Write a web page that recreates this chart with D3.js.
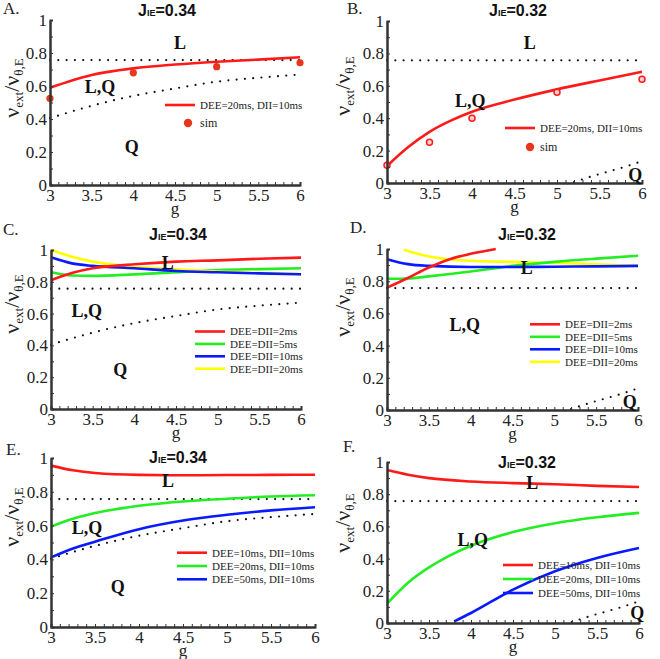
<!DOCTYPE html>
<html><head><meta charset="utf-8">
<script src="https://cdn.jsdelivr.net/npm/d3@7"></script>
<style>body{margin:0;background:#fff}svg{display:block}</style>
</head><body>
<svg id="c" width="660" height="659"></svg>
<script>
// ---------- data ----------
const gTicks = [3, 3.5, 4, 4.5, 5, 5.5, 6];
const gTickLabels = ["3", "3.5", "4", "4.5", "5", "5.5", "6"];
const yTicks = [0, 0.2, 0.4, 0.6, 0.8, 1];
const yTickLabels = ["0", "0.2", "0.4", "0.6", "0.8", "1"];
const gGrid = [3, 3.25, 3.5, 4, 4.5, 5, 5.5, 6];
const gFine = [3, 3.25, 3.5, 3.75, 4, 4.5, 5, 5.5, 6];
const gCoarse = [3, 3.5, 4, 4.5, 5, 5.5, 6];

const upperG = [3, 6];
const upperV = [0.757, 0.757];
const lower34V = [0.405, 0.48, 0.54, 0.585, 0.626, 0.65, 0.669];
const lower32G = [5.2, 5.4, 5.6, 5.8, 6];
const lower32V = [0.005, 0.04, 0.07, 0.1, 0.135];

const aRed = [0.59, 0.667, 0.707, 0.73, 0.747, 0.76, 0.774];
const aSimG = [3, 4, 5, 6];
const aSimV = [0.525, 0.68, 0.717, 0.741];

const bRed = [0.105, 0.222, 0.316, 0.385, 0.44, 0.515, 0.578, 0.633, 0.686];
const bSimG = [3, 3.5, 4, 5, 6];
const bSimV = [0.11, 0.252, 0.40, 0.56, 0.641];

const cRed = [0.81, 0.855, 0.885, 0.91, 0.927, 0.935, 0.945, 0.952];
const cGreen = [0.86, 0.84, 0.837, 0.847, 0.86, 0.874, 0.88, 0.885];
const cBlue = [0.954, 0.916, 0.9, 0.885, 0.868, 0.86, 0.853, 0.847];
const cYellow = [1.0, 0.958, 0.927, 0.895, 0.879, 0.864, 0.855, 0.847];

const dRedG = [3, 3.25, 3.5, 3.75, 4, 4.3];
const dRed = [0.76, 0.82, 0.885, 0.937, 0.97, 1.0];
const dGreen = [0.815, 0.817, 0.83, 0.86, 0.895, 0.92, 0.94, 0.958];
const dBlue = [0.937, 0.906, 0.895, 0.888, 0.888, 0.89, 0.892, 0.895];
const dYellowG = [3.2, 3.5, 4, 4.5, 5, 5.5, 6];
const dYellow = [0.996, 0.954, 0.927, 0.92, 0.913, 0.905, 0.895];

const eRed = [0.955, 0.927, 0.911, 0.9, 0.898, 0.899, 0.9, 0.901];
const eGreen = [0.594, 0.64, 0.674, 0.717, 0.743, 0.759, 0.772, 0.78];
const eBlue = [0.412, 0.465, 0.505, 0.579, 0.63, 0.664, 0.69, 0.709];

const fRed = [0.95, 0.921, 0.9, 0.879, 0.869, 0.862, 0.852, 0.845];
const fGreen = [0.12, 0.25, 0.345, 0.42, 0.48, 0.565, 0.62, 0.657, 0.684];
const fBlueG = [3.8, 4, 4.5, 5, 5.5, 6];
const fBlue = [0.01, 0.062, 0.207, 0.321, 0.404, 0.466];

const legendC = ["DEE=DII=2ms", "DEE=DII=5ms", "DEE=DII=10ms", "DEE=DII=20ms"];
const legendE = ["DEE=10ms, DII=10ms", "DEE=20ms, DII=10ms", "DEE=50ms, DII=10ms"];
const legendA = "DEE=20ms, DII=10ms";

// ---------- styles ----------
const RED = "#ff1a1a", GREEN = "#22ee22", BLUE = "#0a1aff", YELLOW = "#ffff00", SIM = "#e8361c";
const serif = "'Liberation Serif','Times New Roman',serif";
const sans = "'Liberation Sans',Arial,sans-serif";

const zip = (g, v) => g.map((x, i) => [x, v[i]]);

const panels = [
  {letter: "A.", lx: 3, ly: 14, x0: 50, x1: 300, yT: 20, yB: 185, J: "0.34", tx: 167, ty: 16,
   ylab: [19, 88], regions: [["L", 4.56, 0.86], ["L,Q", 3.6, 0.594], ["Q", 3.98, 0.23]],
   lower: zip(gCoarse, lower34V),
   curves: [{d: zip(gCoarse, aRed), c: RED}],
   sims: {d: zip(aSimG, aSimV), hollow: false},
   legend: {x: 165, y: 105, items: [[legendA, RED]], sim: [188, 123]}},
  {letter: "B.", lx: 347, ly: 14, x0: 387, x1: 642, yT: 21, yB: 183, J: "0.32", tx: 518, ty: 16,
   ylab: [350, 86], regions: [["L", 4.68, 0.864], ["L,Q", 3.98, 0.51], ["Q", 5.92, 0.05]],
   lower: zip(lower32G, lower32V),
   curves: [{d: zip(gFine, bRed), c: RED}],
   sims: {d: zip(bSimG, bSimV), hollow: true},
   legend: {x: 505, y: 128, items: [[legendA, RED]], sim: [530, 147]}},
  {letter: "C.", lx: 3, ly: 235, x0: 51, x1: 301, yT: 250, yB: 409, J: "0.34", tx: 178, ty: 240,
   ylab: [19, 304], regions: [["L", 4.4, 0.918], ["L,Q", 3.43, 0.62], ["Q", 3.83, 0.245]],
   lower: zip(gCoarse, lower34V),
   curves: [{d: zip(gGrid, cGreen), c: GREEN}, {d: zip(gGrid, cYellow), c: YELLOW}, {d: zip(gGrid, cBlue), c: BLUE}, {d: zip(gGrid, cRed), c: RED}],
   legend: {x: 195, y: 331.5, dy: 12.4, items: legendC.map((t, i) => [t, [RED, GREEN, BLUE, YELLOW][i]])}},
  {letter: "D.", lx: 350, ly: 233, x0: 387, x1: 638, yT: 249, yB: 410, J: "0.32", tx: 527, ty: 240,
   ylab: [350, 307], regions: [["L", 4.67, 0.882], ["L,Q", 3.93, 0.528], ["Q", 5.9, 0.05]],
   lower: zip(lower32G, lower32V),
   curves: [{d: zip(dYellowG, dYellow), c: YELLOW}, {d: zip(gGrid, dGreen), c: GREEN}, {d: zip(gGrid, dBlue), c: BLUE}, {d: zip(dRedG, dRed), c: RED}],
   legend: {x: 530, y: 324.3, dy: 12.5, items: legendC.map((t, i) => [t, [RED, GREEN, BLUE, YELLOW][i]])}},
  {letter: "E.", lx: 6, ly: 455, x0: 51, x1: 315, yT: 458, yB: 627, J: "0.34", tx: 178, ty: 463,
   ylab: [19, 517], regions: [["L", 4.33, 0.868], ["L,Q", 3.41, 0.59], ["Q", 3.76, 0.237]],
   lower: zip(gCoarse, lower34V),
   curves: [{d: zip(gGrid, eRed), c: RED}, {d: zip(gGrid, eGreen), c: GREEN}, {d: zip(gGrid, eBlue), c: BLUE}],
   legend: {x: 177, y: 552.7, dy: 13.3, items: legendE.map((t, i) => [t, [RED, GREEN, BLUE][i]])}},
  {letter: "F.", lx: 343, ly: 452, x0: 387, x1: 639, yT: 462, yB: 623, J: "0.32", tx: 527, ty: 468,
   ylab: [350, 523], regions: [["L", 4.73, 0.87], ["L,Q", 4.02, 0.52], ["Q", 5.98, 0.065]],
   lower: zip(lower32G, lower32V),
   curves: [{d: zip(gGrid, fRed), c: RED}, {d: zip(gFine, fGreen), c: GREEN}, {d: zip(fBlueG, fBlue), c: BLUE}],
   legend: {x: 503, y: 565, dy: 14, items: legendE.map((t, i) => [t, [RED, GREEN, BLUE][i]])}}
];

const svg = d3.select("#c");

panels.forEach(p => {
  const g = svg.append("g");
  const x = d3.scaleLinear().domain([3, 6]).range([p.x0, p.x1]);
  const y = d3.scaleLinear().domain([0, 1]).range([p.yB, p.yT]);

  // boundaries (dotted)
  const dline = d3.line().x(d => x(d[0])).y(d => y(d[1])).curve(d3.curveMonotoneX);
  [zip(upperG, upperV), p.lower].forEach(b => {
    g.append("path").attr("d", dline(b)).attr("fill", "none").attr("stroke", "#111")
      .attr("stroke-width", 2.2).attr("stroke-linecap", "round").attr("stroke-dasharray", "0,8.3");
  });

  // curves
  const line = d3.line().x(d => x(d[0])).y(d => y(d[1])).curve(d3.curveMonotoneX);
  p.curves.forEach(cv => {
    g.append("path").attr("d", line(cv.d)).attr("fill", "none").attr("stroke", cv.c).attr("stroke-width", 2.6);
  });

  // sims
  if (p.sims) {
    g.selectAll(null).data(p.sims.d).enter().append("circle")
      .attr("cx", d => x(d[0])).attr("cy", d => y(d[1]))
      .attr("r", p.sims.hollow ? 3 : 3.6)
      .attr("fill", p.sims.hollow ? "#ffd0d0" : SIM)
      .attr("stroke", p.sims.hollow ? RED : "none").attr("stroke-width", 1.5);
  }

  // axes
  const xAxis = g.append("g").attr("transform", `translate(0,${p.yB})`)
    .call(d3.axisBottom(x).tickValues(gTicks).tickSize(0).tickPadding(4).tickFormat((d, i) => gTickLabels[i]));
  const xMinor = g.append("g").attr("transform", `translate(0,${p.yB})`)
    .call(d3.axisBottom(x).tickValues(d3.range(31).map(i => 3 + i * 0.1)).tickSize(-3).tickFormat(""));
  const yAxis = g.append("g").attr("transform", `translate(${p.x0},0)`)
    .call(d3.axisLeft(y).tickValues(yTicks).tickSize(0).tickPadding(3).tickFormat((d, i) => yTickLabels[i]));
  const yMinor = g.append("g").attr("transform", `translate(${p.x0},0)`)
    .call(d3.axisLeft(y).tickValues(d3.range(11).map(i => i * 0.1)).tickSize(-3).tickFormat(""));
  [xAxis, xMinor, yAxis, yMinor].forEach(a => {
    a.attr("font-family", serif);
    a.select(".domain").attr("stroke", "#333").attr("stroke-width", 2);
    a.selectAll(".tick line").attr("stroke", "#333").attr("stroke-width", 1);
    a.selectAll("text").attr("font-family", serif).attr("font-size", 17).attr("fill", "#222");
  });
  xAxis.selectAll("text").attr("dy", "0.72em");

  // x label
  g.append("text").attr("x", (p.x0 + p.x1) / 2).attr("y", p.yB + 29).attr("text-anchor", "middle")
    .attr("font-family", serif).attr("font-size", 17).attr("fill", "#222").text("g");

  // y label
  const yl = g.append("text").attr("transform", `translate(${p.ylab[0]},${p.ylab[1]}) rotate(-90)`)
    .attr("text-anchor", "middle").attr("font-family", serif).attr("font-size", 22).attr("fill", "#222");
  yl.append("tspan").text("ν");
  yl.append("tspan").attr("font-size", 13).attr("dy", 4).text("ext");
  yl.append("tspan").attr("dy", -4).text("/");
  yl.append("tspan").text("ν");
  yl.append("tspan").attr("font-size", 13).attr("dy", 4).text("θ,E");

  // title
  const t = g.append("text").attr("x", p.tx).attr("y", p.ty).attr("text-anchor", "middle")
    .attr("font-family", sans).attr("font-weight", "bold").attr("font-size", 16).attr("fill", "#111");
  t.append("tspan").text("J");
  t.append("tspan").attr("font-size", 9).text("IE");
  t.append("tspan").text("=" + p.J);

  // panel letter
  g.append("text").attr("x", p.lx).attr("y", p.ly).attr("font-family", serif).attr("font-size", 17)
    .attr("fill", "#222").text(p.letter);

  // region labels
  p.regions.forEach(r => {
    g.append("text").attr("x", x(r[1])).attr("y", y(r[2])).attr("dy", "0.35em").attr("text-anchor", "middle")
      .attr("font-family", serif).attr("font-weight", "bold").attr("font-size", 18).attr("fill", "#111").text(r[0]);
  });

  // legend
  const L = p.legend;
  L.items.forEach((it, i) => {
    const yy = L.y + i * (L.dy || 0);
    g.append("line").attr("x1", L.x).attr("x2", L.x + 30).attr("y1", yy).attr("y2", yy)
      .attr("stroke", it[1]).attr("stroke-width", 2.6);
    g.append("text").attr("x", L.x + 35).attr("y", yy).attr("dy", "0.35em")
      .attr("font-family", serif).attr("font-size", 11).attr("fill", "#222").text(it[0]);
  });
  if (L.sim) {
    g.append("circle").attr("cx", L.sim[0]).attr("cy", L.sim[1]).attr("r", 4.2).attr("fill", SIM);
    g.append("text").attr("x", L.x + 35).attr("y", L.sim[1]).attr("dy", "0.35em")
      .attr("font-family", serif).attr("font-size", 12).attr("fill", "#222").text("sim");
  }
});
</script>
</body></html>
